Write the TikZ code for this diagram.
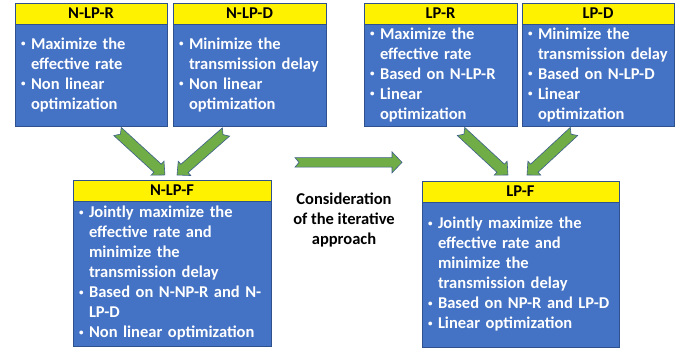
\documentclass[tikz,border=0pt]{standalone}
\usepackage{fontspec}
\setmainfont{Carlito}
\usetikzlibrary{positioning,calc}
\definecolor{boxblue}{RGB}{68,114,196}
\definecolor{boxline}{RGB}{47,82,143}
\definecolor{arrgreen}{RGB}{112,173,71}
\definecolor{arrline}{RGB}{60,95,140}
\newcommand{\bul}{\makebox[10pt][l]{\raisebox{2.5pt}{\fontsize{9}{9}\selectfont\textbullet}}}
\newcommand{\ind}{\hspace*{10pt}}
% block arrow: tail, tip, shaft half width, head half width, head length
\newcommand{\blockarrow}[5]{%
  \filldraw[blockarr] let \p1=(#1), \p2=(#2),
    \n1={atan2(\y2-\y1,\x2-\x1)}, \n2={veclen(\x2-\x1,\y2-\y1)} in
    [shift={(\p1)}, rotate=\n1]
    (0,-#3) -- ({\n2-#5},-#3) -- ({\n2-#5},-#4) -- (\n2,0)
    -- ({\n2-#5},#4) -- ({\n2-#5},#3) -- (0,#3) -- (4,0) -- cycle;}
\tikzset{
  hdr/.style={draw=boxline, line width=0.8pt, fill=yellow, anchor=north west,
    minimum height=21pt, inner sep=0pt, outer sep=0pt,
    font=\fontsize{16.5}{18}\selectfont\bfseries},
  body/.style={draw=boxline, line width=0.8pt, fill=boxblue, text=white,
    align=left, inner xsep=6pt, inner ysep=0pt, outer sep=0pt,
    font=\fontsize{16.5}{20}\selectfont\bfseries},
  blockarr/.style={fill=arrgreen, draw=arrline, line width=0.6pt, line join=miter}
}
\begin{document}
\begin{tikzpicture}[x=1pt,y=-1pt]
  \useasboundingbox (0,0) rectangle (686,352);

  % first stage: non linear problems
  \node[hdr, minimum width=152pt] (hnlpr) at (15,3) {N-LP-R};
  \node[body, below=0pt of hnlpr, minimum height=102pt, text width=140pt] (nlpr)
    {\bul Maximize the\\ \ind effective rate\\ \bul Non linear\\ \ind optimization};
  \node[hdr, minimum width=153pt] (hnlpd) at (173,3) {N-LP-D};
  \node[body, below=0pt of hnlpd, minimum height=102pt, text width=141pt] (nlpd)
    {\bul Minimize the\\ \ind transmission delay\\ \bul Non linear\\ \ind optimization};

  \node[hdr, minimum width=198pt] (hnlpf) at (73,180) {N-LP-F};
  \node[body, below=0pt of hnlpf, minimum height=145pt, text width=186pt] (nlpf)
    {\bul Jointly maximize the\\ \ind effective rate and\\ \ind minimize the\\
     \ind transmission delay\\ \bul Based on N-NP-R and N-\\ \ind LP-D\\
     \bul Non linear optimization};

  % second stage: linear problems
  \node[hdr, minimum width=153pt] (hlpr) at (364,3) {LP-R};
  \node[body, below=0pt of hlpr, minimum height=102pt, text width=141pt] (lpr)
    {\bul Maximize the\\ \ind effective rate\\ \bul Based on N-LP-R\\
     \bul Linear\\ \ind optimization};
  \node[hdr, minimum width=152pt] (hlpd) at (522,3) {LP-D};
  \node[body, below=0pt of hlpd, minimum height=102pt, text width=140pt] (lpd)
    {\bul Minimize the\\ \ind transmission delay\\ \bul Based on N-LP-D\\
     \bul Linear\\ \ind optimization};

  \node[hdr, minimum width=197pt] (hlpf) at (422,181) {LP-F};
  \node[body, below=0pt of hlpf, minimum height=145pt, text width=185pt] (lpf)
    {\bul Jointly maximize the\\ \ind effective rate and\\ \ind minimize the\\
     \ind transmission delay\\ \bul Based on NP-R and LP-D\\
     \bul Linear optimization};

  \node[align=center, font=\fontsize{16.5}{20}\selectfont\bfseries] (iter) at (344,220)
    {Consideration\\ of the iterative\\ approach};

  % arrows
  \coordinate (ta) at ($(nlpr.south)+(26.5,5.5)$);
  \coordinate (tb) at ($(nlpd.south)+(-23.5,6)$);
  \coordinate (pa) at ($(hnlpf.north)+(-7,-5)$);
  \coordinate (pb) at ($(hnlpf.north)+(5,-5)$);
  \coordinate (tc) at ($(lpr.south)+(20.5,5.5)$);
  \coordinate (td) at ($(lpd.south)+(-24,5.5)$);
  \coordinate (pc) at ($(hlpf.north)+(-12.5,-6)$);
  \coordinate (pd) at ($(hlpf.north)+(6.5,-6)$);
  \coordinate (te) at ($(iter.north)+(-49,-27)$);
  \coordinate (pe) at ($(iter.north)+(58,-27)$);
  \blockarrow{ta}{pa}{5.5}{9.5}{10}
  \blockarrow{tb}{pb}{5.5}{9.5}{10}
  \blockarrow{tc}{pc}{5.5}{9.5}{10}
  \blockarrow{td}{pd}{5.5}{9.5}{10}
  \blockarrow{te}{pe}{4.7}{10.5}{10}
\end{tikzpicture}
\end{document}
